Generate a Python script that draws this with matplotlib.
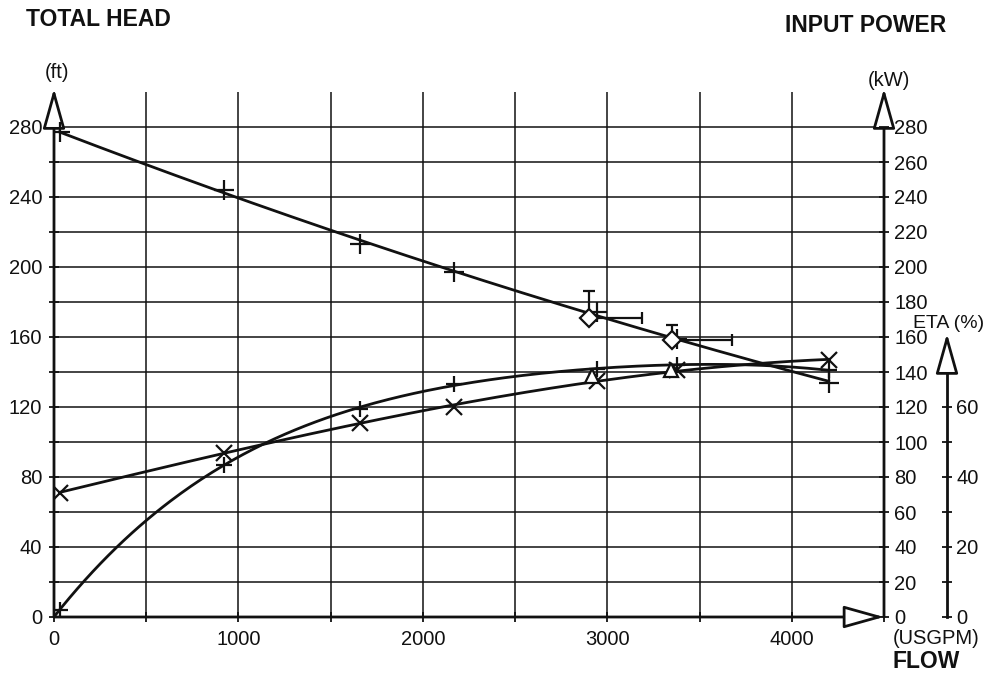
import numpy as np
import matplotlib
matplotlib.use("Agg")
import matplotlib.pyplot as plt
from matplotlib.ticker import MultipleLocator, FixedLocator
import matplotlib.transforms as mtransforms

plt.rcParams['font.family'] = ['Liberation Sans', 'DejaVu Sans']

# ---- data ----
flow = [30, 920, 1657, 2170, 2946, 3380, 4200]           # USGPM
head = [277, 244, 213, 197, 174, 159, 134]               # ft
power = [71, 94, 111, 120, 135, 141, 147]                # kW
eta = [2, 43.5, 59.5, 66.5, 71, 72, 70.5]                # %

duty_flow = [2900, 3350]
duty_head = [171, 158]
tol_head_top = [186, 167]
tol_flow_right = [3190, 3675]

eta_guar_flow = [2915, 3346]
eta_guar = [69, 70.5]

head_ticks = [0, 40, 80, 120, 160, 200, 240, 280]
power_ticks = list(range(0, 281, 20))
eta_tick_labels = [0, 20, 40, 60]
flow_ticks = [0, 1000, 2000, 3000, 4000]

# ---- figure ----
fig = plt.figure(figsize=(9.89, 6.77), dpi=100)
L, B = 54 / 989, 1 - 617 / 677
W, H = (884 - 54) / 989, 525 / 677
ax = fig.add_axes([L, B, W, H])
ax.set_xlim(0, 4500)
ax.set_ylim(0, 300)
for s in ax.spines.values():
    s.set_visible(False)

fs = 14.5
ink = '#111111'

ax.xaxis.set_major_locator(FixedLocator(flow_ticks))
ax.xaxis.set_minor_locator(MultipleLocator(500))
ax.yaxis.set_major_locator(FixedLocator(head_ticks))
ax.yaxis.set_minor_locator(FixedLocator(list(range(20, 281, 40))))
ax.tick_params(axis='both', which='both', direction='inout', color=ink, width=1.3)
ax.tick_params(axis='both', which='major', length=7, labelsize=fs, labelcolor=ink)
ax.tick_params(axis='both', which='minor', length=7)
ax.tick_params(axis='x', pad=6)
ax.tick_params(axis='y', pad=5)
ax.grid(True, which='both', color=ink, lw=1.1)
ax.set_axisbelow(True)

# axis lines with hollow arrow heads
arrow_kw = dict(arrowstyle='-|>,head_length=1.25,head_width=0.35', mutation_scale=20,
                lw=2.0, color=ink, fc='white', shrinkA=0, shrinkB=0)
ax.annotate('', xy=(0, 302), xytext=(0, 0), xycoords='data', arrowprops=arrow_kw,
            annotation_clip=False)
ax.annotate('', xy=(4500, 302), xytext=(4500, 0), xycoords='data', arrowprops=arrow_kw,
            annotation_clip=False)
ax.annotate('', xy=(4500, 0), xytext=(0, 0), xycoords='data', arrowprops=arrow_kw,
            annotation_clip=False)

# ---- power axis (right) ----
axp = ax.twinx()
axp.set_ylim(0, 300)
for s in axp.spines.values():
    s.set_visible(False)
axp.yaxis.set_major_locator(FixedLocator(power_ticks))
axp.tick_params(axis='y', direction='inout', length=7, width=1.3, color=ink,
                labelsize=fs, labelcolor=ink, pad=4)

# ---- eta axis (far right) ----
axe = ax.twinx()
axe.set_ylim(0, 150)
for k, s in axe.spines.items():
    if k != 'right':
        s.set_visible(False)
eta_pos = (947 - 54) / (884 - 54)
axe.spines['right'].set_position(('axes', eta_pos))
axe.spines['right'].set_bounds(0, 72)
axe.spines['right'].set_linewidth(2.0)
axe.spines['right'].set_color(ink)
axe.yaxis.set_major_locator(FixedLocator(eta_tick_labels))
axe.yaxis.set_minor_locator(FixedLocator([10, 30, 50, 70]))
axe.tick_params(axis='y', which='both', direction='inout', length=7, width=1.3, color=ink)
axe.tick_params(axis='y', which='major', labelsize=fs, labelcolor=ink, pad=3)
trans_e = mtransforms.blended_transform_factory(axe.transAxes, axe.transData)
axe.annotate('', xy=(eta_pos, 81), xytext=(eta_pos, 70), xycoords=trans_e,
             textcoords=trans_e, arrowprops=arrow_kw, annotation_clip=False)

# ---- curves ----
fx = np.array(flow, float)
xs = np.linspace(fx[0], fx[-1], 300)
ch = np.polyfit(fx, head, 2)
ax.plot(xs, np.polyval(ch, xs), color=ink, lw=2.0, zorder=3)
ax.plot(flow, head, ls='none', marker='+', ms=14, mew=1.6, color=ink, zorder=4)

cp = np.polyfit(fx, power, 3)
axp.plot(xs, np.polyval(cp, xs), color=ink, lw=2.0, zorder=3)
axp.plot(flow, power, ls='none', marker='x', ms=11, mew=1.6, color=ink, zorder=4)

ce = np.polyfit(fx, eta, 4)
xe = np.linspace(0, fx[-1], 300)
axe.plot(xe, np.polyval(ce, xe), color=ink, lw=2.0, zorder=3)
axe.plot(flow, eta, ls='none', marker='+', ms=12, mew=1.6, color=ink, zorder=4)

# duty point with tolerance bars
ax.errorbar(duty_flow, duty_head,
            xerr=[np.zeros(len(duty_flow)), np.array(tol_flow_right) - np.array(duty_flow)],
            yerr=[np.zeros(len(duty_head)), np.array(tol_head_top) - np.array(duty_head)],
            fmt='D', ms=9, mfc='white', mec=ink, mew=1.6, ecolor=ink, elinewidth=1.6,
            capsize=4, capthick=1.6, zorder=5)
axe.plot(eta_guar_flow, eta_guar, ls='none', marker='^', ms=10, mfc='white', mec=ink,
         mew=1.6, zorder=5)

# ---- texts ----
fig.text(26 / 989, 1 - 19.5 / 677, 'TOTAL HEAD', fontsize=16.5, fontweight='bold',
         ha='left', va='center', color=ink)
fig.text(785 / 989, 1 - 25 / 677, 'INPUT POWER', fontsize=16.5, fontweight='bold',
         ha='left', va='center', color=ink)
fig.text(57 / 989, 1 - 73 / 677, '(ft)', fontsize=14.5, ha='center', va='center', color=ink)
fig.text(889 / 989, 1 - 80 / 677, '(kW)', fontsize=14.5, ha='center', va='center', color=ink)
fig.text(949 / 989, 1 - 324 / 677, 'ETA (%)', fontsize=14, ha='center', va='center', color=ink)
fig.text(893 / 989, 1 - 639 / 677, '(USGPM)', fontsize=14.5, ha='left', va='center', color=ink)
fig.text(893 / 989, 1 - 662 / 677, 'FLOW', fontsize=16.5, fontweight='bold', ha='left',
         va='center', color=ink)

fig.savefig('out.png', dpi=100)
